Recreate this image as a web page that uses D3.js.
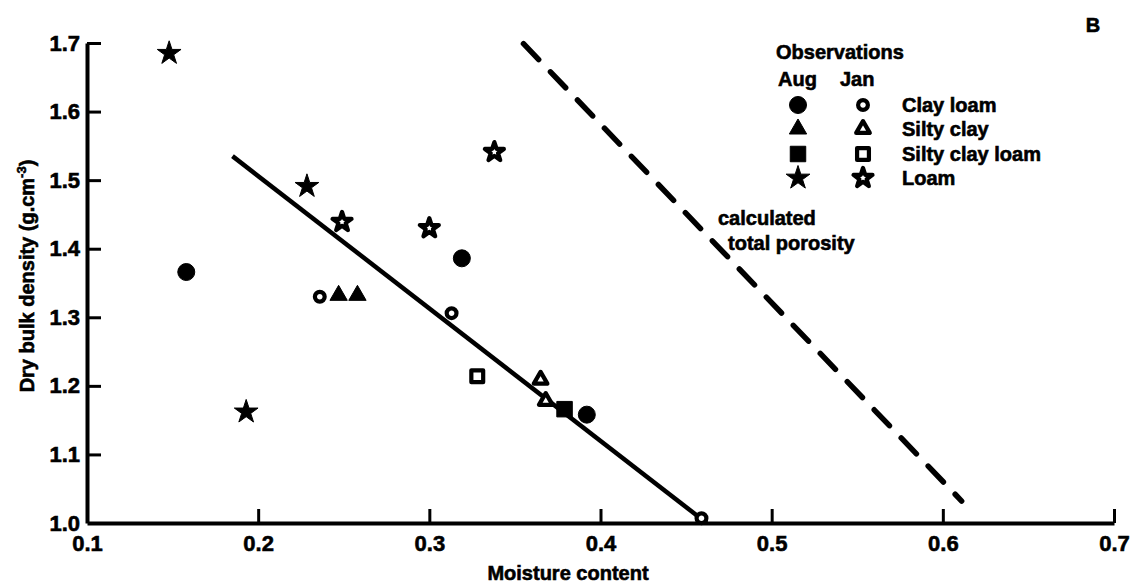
<!DOCTYPE html>
<html>

<head>
    <meta charset='utf-8'>
    <title>Dry bulk density vs moisture content</title>
    <script src='https://d3js.org/d3.v7.min.js'></script>
    <style>
        body { margin: 0; background: #fff; }
        text { font-family: 'Liberation Sans', Arial, sans-serif; font-weight: bold; fill: #000; stroke: #000; stroke-width: 0.6px; }
    </style>
</head>

<body>
    <script>
        // axis ticks
        const xTicks = [0.1, 0.2, 0.3, 0.4, 0.5, 0.6, 0.7];
        const yTicks = [1.0, 1.1, 1.2, 1.3, 1.4, 1.5, 1.6, 1.7];

        // soil types, in legend order
        const soils = ['Clay loam', 'Silty clay', 'Silty clay loam', 'Loam'];

        // August observations (filled symbols) [moisture, density]
        const augClayLoam = [[0.158, 1.366], [0.319, 1.386], [0.392, 1.158]];
        const augSiltyClay = [[0.247, 1.332], [0.258, 1.332]];
        const augSiltyClayLoam = [[0.379, 1.166]];
        const augLoam = [[0.148, 1.685], [0.193, 1.162], [0.2285, 1.491]];

        // January observations (open symbols)
        const janClayLoam = [[0.236, 1.330], [0.313, 1.306], [0.459, 1.007]];
        const janSiltyClay = [[0.365, 1.209], [0.368, 1.178]];
        const janSiltyClayLoam = [[0.328, 1.214]];
        const janLoam = [[0.249, 1.439], [0.300, 1.430], [0.338, 1.541]];

        // fitted line and calculated total porosity line
        const fitLine = [[0.185, 1.535], [0.462, 1.0]];
        const porosityLine = [[0.355, 1.699], [0.611, 1.032]];

        const width = 1138;
        const height = 586;
        const margin = { top: 43, right: 24, bottom: 63, left: 87 };

        const svg = d3.select('body')
            .append('svg')
            .attr('width', width)
            .attr('height', height);

        const x = d3.scaleLinear()
            .domain([0.1, 0.7])
            .range([margin.left, width - margin.right]);

        const y = d3.scaleLinear()
            .domain([1.0, 1.7])
            .range([height - margin.bottom, margin.top]);

        // axes - ticks point inwards
        const xAxis = svg.append('g')
            .attr('transform', 'translate(0,' + (height - margin.bottom) + ')')
            .call(d3.axisBottom(x)
                .tickValues(xTicks)
                .tickFormat(d3.format('.1f'))
                .tickSizeInner(-14)
                .tickSizeOuter(0)
                .tickPadding(12));

        const yAxis = svg.append('g')
            .attr('transform', 'translate(' + margin.left + ',0)')
            .call(d3.axisLeft(y)
                .tickValues(yTicks)
                .tickFormat(d3.format('.1f'))
                .tickSizeInner(-14)
                .tickSizeOuter(0)
                .tickPadding(7));

        [xAxis, yAxis].forEach(function (g) {
            g.select('.domain').attr('stroke', '#000').attr('stroke-width', 4);
            g.selectAll('.tick line').attr('stroke', '#000').attr('stroke-width', 3);
            g.selectAll('.tick text')
                .attr('font-size', 22)
                .attr('font-family', "'Liberation Sans', Arial, sans-serif")
                .attr('font-weight', 'bold')
                .attr('fill', '#000');
        });
        // the origin ticks sit on the other axis
        xAxis.selectAll('.tick line').filter(d => d === 0.1).remove();
        yAxis.selectAll('.tick line').filter(d => d === 1.0).remove();

        // axis titles
        svg.append('text')
            .attr('x', 568)
            .attr('y', 580)
            .attr('text-anchor', 'middle')
            .attr('font-size', 20)
            .text('Moisture content');

        const yTitle = svg.append('text')
            .attr('transform', 'translate(34,276) rotate(-90)')
            .attr('text-anchor', 'middle')
            .attr('font-size', 20);
        yTitle.append('tspan').text('Dry bulk density (g.cm');
        yTitle.append('tspan').attr('font-size', 13).attr('dy', -8).text('-3');
        yTitle.append('tspan').attr('dy', 8).text(')');

        svg.append('text')
            .attr('x', 1093)
            .attr('y', 32)
            .attr('text-anchor', 'middle')
            .attr('font-size', 20)
            .text('B');

        // lines
        const line = d3.line()
            .x(d => x(d[0]))
            .y(d => y(d[1]));

        svg.append('path')
            .datum(fitLine)
            .attr('d', line)
            .attr('fill', 'none')
            .attr('stroke', '#000')
            .attr('stroke-width', 4.5);

        svg.append('path')
            .datum(porosityLine)
            .attr('d', line)
            .attr('fill', 'none')
            .attr('stroke', '#000')
            .attr('stroke-width', 5.5)
            .attr('stroke-linecap', 'round')
            .attr('stroke-dasharray', '22 17');

        svg.append('text')
            .attr('x', 718)
            .attr('y', 225)
            .attr('font-size', 20)
            .text('calculated');

        svg.append('text')
            .attr('x', 728)
            .attr('y', 250)
            .attr('font-size', 20)
            .text('total porosity');

        // symbol definitions per soil type
        const shapes = {
            'Clay loam': { type: d3.symbolCircle, filled: 227, open: 75 },
            'Silty clay': { type: d3.symbolTriangle, filled: 130, open: 80 },
            'Silty clay loam': { type: d3.symbolSquare, filled: 240, open: 140 },
            'Loam': { type: d3.symbolStar, filled: 175, open: 112 }
        };

        function drawSymbol(g, soil, open, px, py) {
            const s = shapes[soil];
            g.append('path')
                .attr('d', d3.symbol().type(s.type).size(open ? s.open : s.filled)())
                .attr('transform', 'translate(' + px + ',' + py + ')')
                .attr('fill', open ? '#fff' : '#000')
                .attr('stroke', '#000')
                .attr('stroke-width', open ? 4.2 : 1)
                .attr('stroke-linejoin', 'round');
        }

        const augData = [augClayLoam, augSiltyClay, augSiltyClayLoam, augLoam];
        const janData = [janClayLoam, janSiltyClay, janSiltyClayLoam, janLoam];

        const points = svg.append('g');
        soils.forEach(function (soil, i) {
            augData[i].forEach(d => drawSymbol(points, soil, false, x(d[0]), y(d[1])));
            janData[i].forEach(d => drawSymbol(points, soil, true, x(d[0]), y(d[1])));
        });

        // legend
        const legend = svg.append('g');
        legend.append('text').attr('x', 776).attr('y', 59).attr('font-size', 20).text('Observations');
        legend.append('text').attr('x', 778).attr('y', 86).attr('font-size', 20).text('Aug');
        legend.append('text').attr('x', 840).attr('y', 86).attr('font-size', 20).text('Jan');

        const rowY = [105, 129, 154, 178];
        soils.forEach(function (soil, i) {
            drawSymbol(legend, soil, false, 798, rowY[i]);
            drawSymbol(legend, soil, true, 863, rowY[i]);
            legend.append('text')
                .attr('x', 902)
                .attr('y', rowY[i] + 7)
                .attr('font-size', 20)
                .text(soil);
        });
    </script>
</body>

</html>
